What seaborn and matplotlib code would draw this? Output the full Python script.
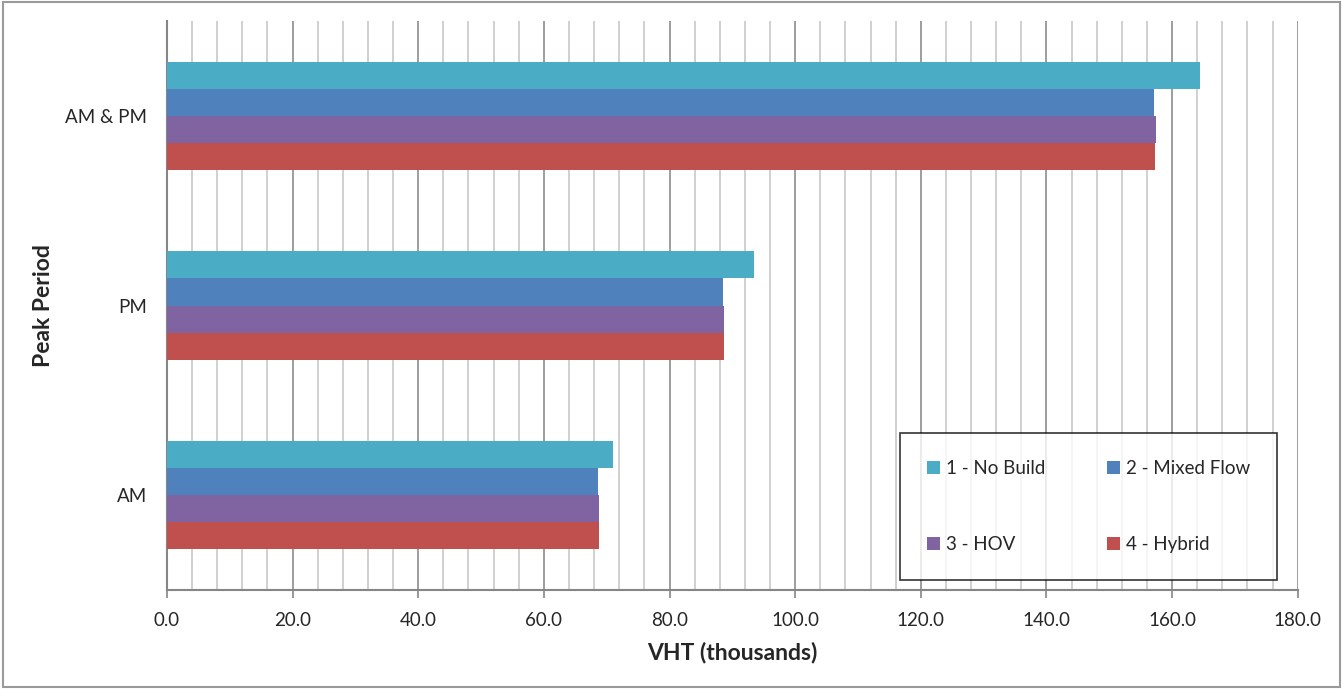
import seaborn as sns
import matplotlib.pyplot as plt
import pandas as pd
import numpy as np
from matplotlib.patches import Rectangle

# Values (VHT, thousands)
periods = ['AM & PM', 'PM', 'AM']
scenarios = ['1 - No Build', '2 - Mixed Flow', '3 - HOV', '4 - Hybrid']
no_build = [164.4, 93.4, 71.0]
mixed_flow = [157.1, 88.5, 68.6]
hov = [157.4, 88.6, 68.8]
hybrid = [157.3, 88.7, 68.7]
colors = ['#4BACC6', '#4F81BD', '#8064A2', '#C0504D']

rows = []
for name, vals in zip(scenarios, [no_build, mixed_flow, hov, hybrid]):
    for p, v in zip(periods, vals):
        rows.append({'Period': p, 'Scenario': name, 'VHT': v})
dados = pd.DataFrame(rows)

sns.set_theme(style='white')
plt.rcParams['font.family'] = ['Lato', 'DejaVu Sans']

fig = plt.figure(figsize=(13.43, 6.89), dpi=100)
ax = fig.add_axes([0.1243, 0.1437, 0.8420, 0.8258])

sns.barplot(data=dados, x='VHT', y='Period', hue='Scenario', order=periods,
            hue_order=scenarios, palette=colors, width=0.57, orient='h',
            linewidth=0, saturation=1, ax=ax, zorder=3)

ax.set_xlim(0, 180)
ax.set_ylim(2.5, -0.5)
ax.set_xticks(np.arange(0, 181, 20))
ax.set_xticklabels([f'{t:.1f}' for t in np.arange(0, 181, 20)], fontsize=13.5)
ax.set_xticks(np.arange(0, 181, 4), minor=True)
ax.tick_params(axis='x', which='major', direction='out', length=6, width=1.2,
               color='#868686', pad=10, bottom=True)
ax.tick_params(axis='x', which='minor', length=0)
ax.tick_params(axis='y', length=0, pad=14, labelsize=13.5)

ax.grid(axis='x', which='minor', color='#c8c8c8', linewidth=1.2, zorder=0)
ax.grid(axis='x', which='major', color='#8c8c8c', linewidth=1.2, zorder=0)
ax.set_axisbelow(True)

for s in ['top', 'right']:
    ax.spines[s].set_visible(False)
for s in ['left', 'bottom']:
    ax.spines[s].set_color('#868686')
    ax.spines[s].set_linewidth(1.5)

ax.set_xlabel('VHT (thousands)', fontsize=16.5, fontweight='bold', labelpad=9)
ax.set_ylabel('Peak Period', fontsize=16.5, fontweight='bold', labelpad=8)

# legend filled row by row: 1, 2 / 3, 4
handles, labels = ax.get_legend_handles_labels()
idx = [0, 2, 1, 3]
leg = ax.legend([handles[i] for i in idx], [labels[i] for i in idx],
                loc='lower left', bbox_to_anchor=(0.648, 0.0176), ncol=2,
                fontsize=13.5, frameon=True, fancybox=False, edgecolor='black',
                borderpad=1.45, labelspacing=3.13, handlelength=0.7,
                handleheight=0.7, handletextpad=0.3, columnspacing=3.3,
                borderaxespad=0)
leg.get_frame().set_linewidth(1.2)

# outer chart border
fig.patches.append(Rectangle((0.002, 0.003), 0.996, 0.994, transform=fig.transFigure,
                             fill=False, edgecolor='#9a9a9a', linewidth=1.5))

fig.savefig('out.png', dpi=100)
